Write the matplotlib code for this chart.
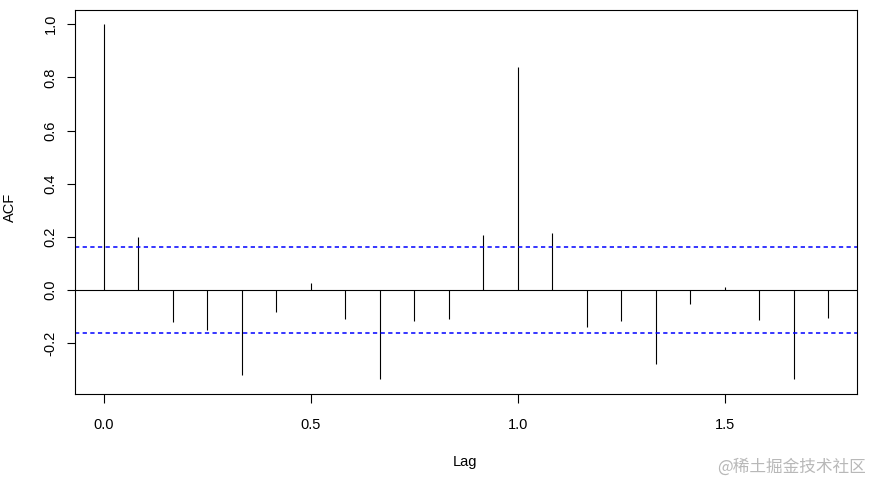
import numpy as np
import matplotlib
matplotlib.use('Agg')
from matplotlib import pyplot as plt

# ACF values, lags in years (monthly series, 12 per year)
lags = np.arange(22) / 12.0
acf = [1.000, 0.200, -0.122, -0.152, -0.321, -0.084, 0.028, -0.110,
       -0.335, -0.118, -0.110, 0.208, 0.840, 0.216, -0.140, -0.118,
       -0.279, -0.054, 0.013, -0.114, -0.336, -0.107]
ci = 0.163
xticks = [0.0, 0.5, 1.0, 1.5]
yticks = [-0.2, 0.0, 0.2, 0.4, 0.6, 0.8, 1.0]

plt.rcParams['font.family'] = ['Liberation Sans', 'DejaVu Sans']

fig = plt.figure(figsize=(8.72, 4.84), dpi=100)
ax = fig.add_axes([0.086, 0.186, 0.897, 0.793])

ax.vlines(lags, 0, acf, color='k', lw=0.8)
ax.axhline(0, color='k', lw=0.8)
ax.axhline(ci, color='#0000ff', lw=1.1, dashes=(2.8, 2.2))
ax.axhline(-ci, color='#0000ff', lw=1.1, dashes=(2.8, 2.2))

ax.set_xlim(-0.07, 1.82)
ax.set_ylim(-0.391, 1.053)
ax.set_xticks(xticks)
ax.set_xticklabels([f'{t:.1f}' for t in xticks])
ax.set_yticks(yticks)
ax.set_yticklabels([f'{t:.1f}' for t in yticks], rotation=90, va='center')
ax.tick_params(direction='out', length=6.5, width=0.8, labelsize=10.5)
ax.tick_params(axis='x', pad=11)
ax.tick_params(axis='y', length=5.5, pad=7)
for s in ax.spines.values():
    s.set_linewidth(0.8)

fig.text(0.533, 0.045, 'Lag', ha='center', va='center', fontsize=10.5)
fig.text(0.012, 0.572, 'ACF', ha='center', va='center', rotation=90, fontsize=10.5)
fig.text(0.993, 0.035, '@稀土掘金技术社区', ha='right', va='center', fontsize=12,
         color='#b8b8b8', family=['Noto Sans CJK SC', 'DejaVu Sans'])

fig.savefig('out.png', dpi=100)
